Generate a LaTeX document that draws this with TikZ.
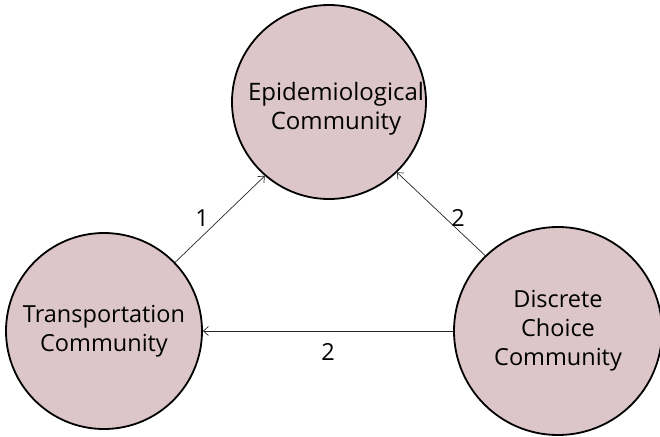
\documentclass[tikz,border=0pt]{standalone}
\usepackage{fontspec}
\setmainfont{Open Sans}
\usetikzlibrary{arrows.meta}
\definecolor{circfill}{RGB}{220,198,201}
\begin{document}
\begin{tikzpicture}[x=1pt,y=-1pt,
  community/.style={circle,draw=black,line width=1.8pt,fill=circfill,
    minimum size=#1,inner sep=0pt,align=center,
    font=\fontsize{23.5}{29}\selectfont},
  caption/.style={align=center,inner sep=0pt,font=\fontsize{24}{29.5}\selectfont},
  link/.style={draw=black!85,line width=0.7pt,-{Straight Barb[length=5pt,width=9pt]}},
  lbl/.style={font=\fontsize{23.5}{28}\selectfont}]
  \useasboundingbox (0,0) rectangle (660,436);
  \node[community=194pt] (epi) at (329,102) {};
  \node[caption] (epitext) at (336,109) {Epidemiological\\Community};
  \node[community=196pt] (trans) at (104,331) {Transportation\\Community};
  \node[community=208pt] (dc) at (558,331) {Discrete\\Choice\\Community};
  \draw[link] (trans.44) -- (epi.229);
  \draw[link] (dc.134) -- (epi.314);
  \draw[link] (dc.west) -- (trans.east);
  \node[lbl] (l1) at (202,218) {1};
  \node[lbl] (l2) at (458,218) {2};
  \node[lbl] (l3) at (328,352) {2};
\end{tikzpicture}
\end{document}
